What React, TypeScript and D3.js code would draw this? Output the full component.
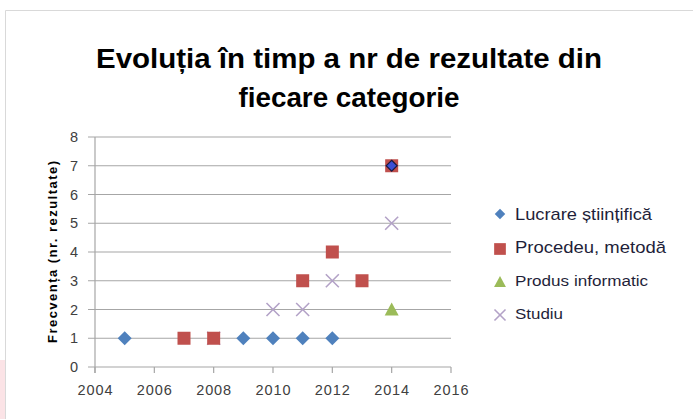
import * as d3 from 'd3';

const titleLines = ['Evoluția în timp a nr de rezultate din', 'fiecare categorie'];
const yLabel = 'Frecvența  (nr. rezultate)';
const xTicks = [2004, 2006, 2008, 2010, 2012, 2014, 2016];
const yTicks = [0, 1, 2, 3, 4, 5, 6, 7, 8];

const lucrareYears = [2005, 2009, 2010, 2011, 2012, 2014];
const lucrareValues = [1, 1, 1, 1, 1, 7];
const procedeuYears = [2007, 2008, 2011, 2012, 2013, 2014];
const procedeuValues = [1, 1, 3, 4, 3, 7];
const produsYears = [2014];
const produsValues = [2];
const studiuYears = [2008, 2010, 2011, 2012, 2014];
const studiuValues = [1, 2, 2, 3, 5];

const seriesNames = ['Lucrare  științifică', 'Procedeu, metodă', 'Produs informatic', 'Studiu'];

const W = 693;
const H = 419;
const margin = { left: 95, right: 242, top: 137, bottom: 52 };

const x = d3.scaleLinear().domain([2004, 2016]).range([margin.left, W - margin.right]);
const y = d3.scaleLinear().domain([0, 8]).range([H - margin.bottom, margin.top]);

const font = "'Liberation Sans', Arial, sans-serif";

const diamond = (cx: number, cy: number, r: number) =>
  `M${cx},${cy - r}L${cx + r},${cy}L${cx},${cy + r}L${cx - r},${cy}Z`;

function Marker({ kind, cx, cy, s = 1 }: { kind: number; cx: number; cy: number; s?: number }) {
  if (kind === 0) return <path d={diamond(cx, cy, 7 * s)} fill="#4f81bd" />;
  if (kind === 1)
    return <rect x={cx - 6.5 * s} y={cy - 6.5 * s} width={13 * s} height={13 * s} fill="#c0504d" />;
  if (kind === 2)
    return (
      <path
        d={`M${cx},${cy - 7 * s}L${cx + 7 * s},${cy + 6 * s}L${cx - 7 * s},${cy + 6 * s}Z`}
        fill="#9bbb59"
      />
    );
  const r = 6.5 * s;
  return (
    <path
      d={`M${cx - r},${cy - r}L${cx + r},${cy + r}M${cx - r},${cy + r}L${cx + r},${cy - r}`}
      stroke="#b3a2c7"
      strokeWidth={1.6}
      fill="none"
    />
  );
}

export default function App() {
  const x0 = x.range()[0];
  const x1 = x.range()[1];
  const series = [
    { years: lucrareYears, values: lucrareValues },
    { years: procedeuYears, values: procedeuValues },
    { years: produsYears, values: produsValues },
    { years: studiuYears, values: studiuValues },
  ];
  const legendMarkerY = [214, 249, 282, 315];
  const legendBase = [220, 253, 286, 319];
  const legendSize = [17, 17, 14, 14];
  const legendLen = [137, 151, 133, 48];
  const legendScale = [0.75, 0.9, 0.85, 0.85];
  const drawOrder = [3, 2, 1, 0];
  return (
    <svg
      width={W}
      height={H}
      style={{ position: 'absolute', left: 0, top: 0, background: '#fff' }}
    >
      <rect x={0} y={0} width={W} height={H} fill="#fff" />
      <rect x={0} y={360} width={5} height={59} fill="#fbe3e6" />
      <path d={`M5.5,${H}V10.5H${W}`} fill="none" stroke="#d9d9d9" />

      {titleLines.map((t, i) => (
        <text
          key={i}
          x={349}
          y={68 + i * 39}
          textAnchor="middle"
          fontFamily={font}
          fontWeight="bold"
          fontSize={28}
          fill="#000"
          textLength={i === 0 ? 506 : 221}
          lengthAdjust="spacingAndGlyphs"
        >
          {t}
        </text>
      ))}

      {yTicks.map((t) => (
        <g key={t}>
          <line x1={x0 - 7} x2={x1} y1={y(t)} y2={y(t)} stroke="#a6a6a6" strokeWidth={1.2} />
          <text
            x={x0 - 17}
            y={y(t)}
            dy="0.36em"
            textAnchor="end"
            fontFamily={font}
            fontSize={14.5}
            fill="#404040"
          >
            {t}
          </text>
        </g>
      ))}
      <line x1={x0} x2={x0} y1={y(8)} y2={y(0) + 6} stroke="#a6a6a6" strokeWidth={1.2} />
      {xTicks.map((t) => (
        <g key={t}>
          <line x1={x(t)} x2={x(t)} y1={y(0)} y2={y(0) + 6} stroke="#a6a6a6" strokeWidth={1.2} />
          <text
            x={x(t)}
            y={y(0) + 28}
            textAnchor="middle"
            fontFamily={font}
            fontSize={14.5}
            fill="#404040"
            textLength={35}
            lengthAdjust="spacing"
          >
            {t}
          </text>
        </g>
      ))}

      <text
        transform={`translate(57,${(y(0) + y(8)) / 2}) rotate(-90)`}
        textAnchor="middle"
        fontFamily={font}
        fontWeight="bold"
        fontSize={13}
        fill="#000"
        textLength={182}
        lengthAdjust="spacing"
      >
        {yLabel}
      </text>

      {drawOrder.map((k) =>
        series[k].years.map((yr, i) => {
          const cx = x(yr);
          const cy = y(series[k].values[i]);
          if (k === 0 && series[k].values[i] === 7)
            return (
              <path
                key={`${k}-${i}`}
                d={diamond(cx, cy, 5.5)}
                fill="#3a4fd6"
                stroke="#1a1a40"
                strokeWidth={1.2}
              />
            );
          return <Marker key={`${k}-${i}`} kind={k} cx={cx} cy={cy} />;
        })
      )}

      {seriesNames.map((name, k) => (
        <g key={name}>
          <Marker kind={k} cx={500} cy={legendMarkerY[k]} s={legendScale[k]} />
          <text
            x={515}
            y={legendBase[k]}
            fontFamily={font}
            fontSize={legendSize[k]}
            fill="#1f1f3a"
            textLength={legendLen[k]}
            lengthAdjust="spacingAndGlyphs"
          >
            {name}
          </text>
        </g>
      ))}
    </svg>
  );
}
